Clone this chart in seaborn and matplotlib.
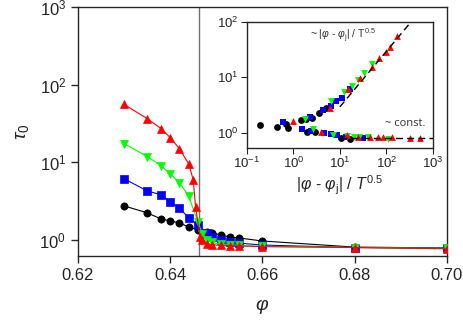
import numpy as np
import pandas as pd
import seaborn as sns
import matplotlib.pyplot as plt

sns.set_style("ticks")
plt.rcParams['font.family'] = ['Liberation Sans', 'DejaVu Sans']
plt.rcParams['mathtext.fontset'] = 'custom'
plt.rcParams['mathtext.rm'] = 'Liberation Sans'
plt.rcParams['mathtext.it'] = 'Liberation Sans:italic'

phi_j = 0.6462

# main panel: tau_0 vs phi, one series per temperature
phi_black = [0.630, 0.635, 0.638, 0.640, 0.642, 0.644, 0.646, 0.648, 0.649, 0.651, 0.653, 0.655, 0.660, 0.680, 0.700]
tau_black = [2.75, 2.24, 1.87, 1.76, 1.66, 1.47, 1.35, 1.27, 1.23, 1.16, 1.09, 1.06, 0.97, 0.81, 0.79]
phi_blue = [0.630, 0.635, 0.638, 0.640, 0.642, 0.644, 0.646, 0.648, 0.649, 0.651, 0.653, 0.655, 0.660, 0.680, 0.700]
tau_blue = [6.15, 4.3, 3.82, 3.1, 2.6, 1.93, 1.56, 1.23, 1.09, 1.0, 0.94, 0.91, 0.86, 0.80, 0.78]
phi_green = [0.630, 0.635, 0.638, 0.640, 0.642, 0.644, 0.646, 0.647, 0.648, 0.649, 0.651, 0.653, 0.655, 0.660, 0.680, 0.700]
tau_green = [17.5, 11.9, 9.1, 7.1, 5.5, 3.7, 1.71, 1.2, 1.0, 0.93, 0.88, 0.86, 0.85, 0.83, 0.80, 0.78]
phi_red = [0.630, 0.635, 0.638, 0.640, 0.642, 0.644, 0.645, 0.6455, 0.6465, 0.647, 0.648, 0.649, 0.651, 0.653, 0.655, 0.660, 0.680, 0.700]
tau_red = [55.8, 36.7, 27.3, 20.9, 15.0, 9.6, 5.97, 2.67, 1.09, 1.0, 0.9, 0.87, 0.85, 0.84, 0.84, 0.82, 0.80, 0.77]

# inset: scaled variable, upper (phi < phi_j) and lower (phi > phi_j) branches
ins_black_up_x = [0.19, 0.68, 1.43, 1.9, 2.5, 3.6, 5.0]
ins_black_up_y = [1.38, 1.45, 1.71, 1.76, 1.87, 2.25, 2.8]
ins_black_lo_x = [0.44, 0.77, 2.0, 2.9, 10.4, 16.6]
ins_black_lo_y = [1.30, 1.24, 1.03, 1.05, 0.82, 0.78]
ins_blue_up_x = [0.6, 2.3, 4.3, 6.3, 8.3, 11.3, 16.4]
ins_blue_up_y = [1.56, 1.93, 2.6, 3.1, 3.82, 4.3, 6.15]
ins_blue_lo_x = [1.5, 2.4, 4.6, 6.6, 8.6, 13.5, 32]
ins_blue_lo_y = [1.16, 1.10, 1.0, 0.94, 0.91, 0.86, 0.80]
ins_green_up_x = [1.8, 6.5, 12.4, 18.3, 24, 33, 48]
ins_green_up_y = [1.75, 3.7, 5.5, 7.1, 9.1, 11.9, 17.5]
ins_green_lo_x = [2.6, 7.2, 14, 20, 26, 41, 108]
ins_green_lo_y = [1.2, 0.93, 0.88, 0.86, 0.85, 0.83, 0.78]
ins_red_up_x = [1.0, 6.1, 14.7, 27, 48, 70, 98, 119, 168]
ins_red_up_y = [1.64, 2.8, 6.1, 9.8, 15.5, 22.5, 28.7, 35.3, 55.6]
ins_red_lo_x = [4.0, 14, 24, 44, 65, 83, 130, 320, 520]
ins_red_lo_y = [1.05, 0.91, 0.86, 0.83, 0.84, 0.83, 0.83, 0.80, 0.80]

fit_up_x = [10, 340]
fit_up_y = [2.95, 100]
fit_lo_x = [10, 1000]
fit_lo_y = [0.80, 0.80]

series = [
    ("black", "o", phi_black, tau_black, ins_black_up_x, ins_black_up_y, ins_black_lo_x, ins_black_lo_y),
    ("#0000ff", "s", phi_blue, tau_blue, ins_blue_up_x, ins_blue_up_y, ins_blue_lo_x, ins_blue_lo_y),
    ("#00ff00", "v", phi_green, tau_green, ins_green_up_x, ins_green_up_y, ins_green_lo_x, ins_green_lo_y),
    ("#ff0000", "^", phi_red, tau_red, ins_red_up_x, ins_red_up_y, ins_red_lo_x, ins_red_lo_y),
]

fig = plt.figure(figsize=(4.64, 3.25), dpi=100)
ax = fig.add_axes([0.168, 0.212, 0.795, 0.766])

ax.axvline(phi_j, color="#707070", lw=1.0, zorder=1)
for col, mk, px, py, *_ in series:
    sns.lineplot(x=px, y=py, ax=ax, color=col, marker=mk, markersize=5.2,
                 markeredgecolor=col, markeredgewidth=0.5, lw=0.8, sort=False, zorder=3)

ax.set_yscale("log")
ax.set_xlim(0.62, 0.70)
ax.set_ylim(0.62, 1000)
ax.set_xticks([0.62, 0.64, 0.66, 0.68, 0.70])
ax.set_xticklabels(["0.62", "0.64", "0.66", "0.68", "0.70"])
ax.yaxis.set_minor_locator(plt.NullLocator())
ax.tick_params(labelsize=12, length=5, width=1.0, direction="out")
ax.set_xlabel(r"$\varphi$", fontsize=14, labelpad=10)
ax.set_ylabel(r"$\tau_0$", fontsize=14, labelpad=6)
for s in ax.spines.values():
    s.set_linewidth(1.0)

# inset
ins = fig.add_axes([0.532, 0.545, 0.401, 0.388])
for col, mk, _, _, ux, uy, lx, ly in series:
    sns.scatterplot(x=ux, y=uy, ax=ins, color=col, marker=mk, s=24, linewidth=0, zorder=3)
    sns.scatterplot(x=lx, y=ly, ax=ins, color=col, marker=mk, s=24, linewidth=0, zorder=3)
sns.lineplot(x=fit_up_x, y=fit_up_y, ax=ins, color="black", lw=1.0, linestyle=(0, (5, 3)), zorder=4)
sns.lineplot(x=fit_lo_x, y=fit_lo_y, ax=ins, color="black", lw=1.0, linestyle=(0, (5, 3)), zorder=4)
ins.set_xscale("log")
ins.set_yscale("log")
ins.set_xlim(0.1, 1000)
ins.set_ylim(0.54, 100)
ins.xaxis.set_minor_locator(plt.NullLocator())
ins.yaxis.set_minor_locator(plt.NullLocator())
ins.tick_params(labelsize=9.5, length=4, width=0.8, direction="out", pad=2)
ins.set_xlabel(r"$|\varphi$ - $\varphi_{\mathrm{j}}|$ / $T^{0.5}$", fontsize=11.5, labelpad=2)
ins.text(0.34, 0.89, r"~ $|\varphi$ - $\varphi_{\mathrm{j}}|$ / T$^{0.5}$", transform=ins.transAxes,
         fontsize=7.5, ha="left", va="center", color="#333333")
ins.text(0.96, 0.19, "~ const.", transform=ins.transAxes, fontsize=8, ha="right",
         va="center", color="#333333", family=["Open Sans", "DejaVu Sans"])
for s in ins.spines.values():
    s.set_linewidth(1.0)

fig.savefig("out.png", dpi=100)
